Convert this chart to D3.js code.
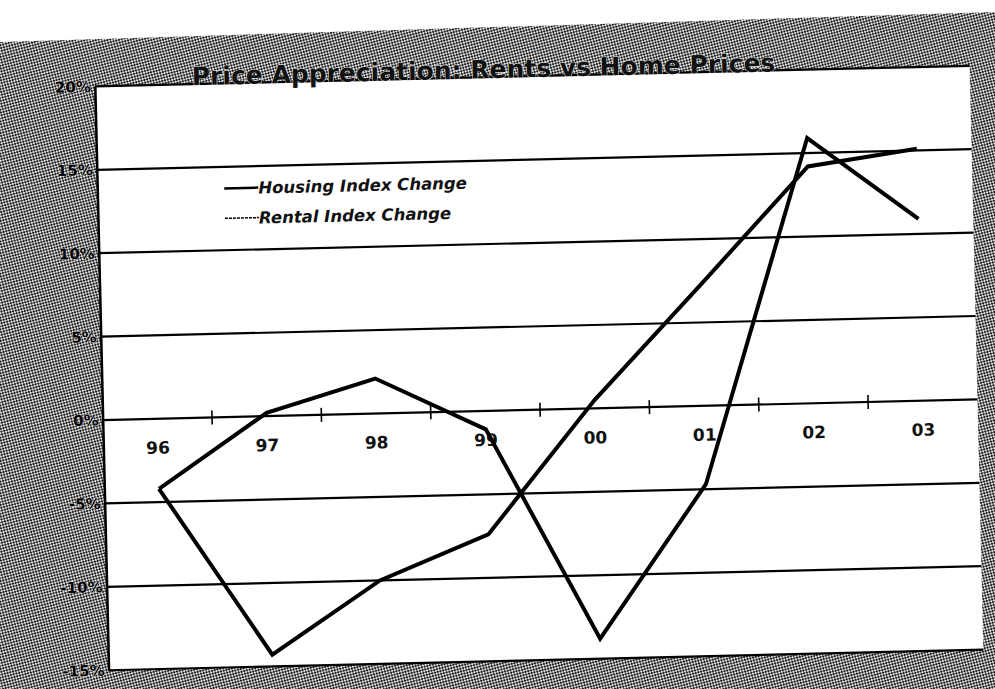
<!DOCTYPE html>
<html>
<head>
<meta charset="utf-8">
<style>
    body {
        margin: 0;
        overflow: hidden;
        background: #fff;
    }
    text {
        font-family: "DejaVu Sans", Verdana, sans-serif;
    }
</style>
<script src="https://cdn.jsdelivr.net/npm/d3@7"></script>
</head>
<body>
<div id="container"></div>
<script>
    // chart data
    const years = ["96", "97", "98", "99", "00", "01", "02", "03"];
    const housing = [-4.2, 0.2, 2.1, -1.1, -13.8, -4.7, 15.9, 10.9];
    const rental = [-4.2, -14.3, -10.0, -7.4, 0.5, 7.3, 14.2, 15.1];
    const seriesNames = ["Housing Index Change", "Rental Index Change"];
    const yTicks = [20, 15, 10, 5, 0, -5, -10, -15];
    const title = "Price Appreciation: Rents vs Home Prices";

    const width = 995, height = 689;
    // plot box (before the little scan tilt is applied)
    const plot = {left: 101, right: 976, top: 77, bottom: 661};

    const svg = d3.select("#container").append("svg")
        .attr("width", width)
        .attr("height", height);

    // dithered grey of the scanned frame
    const pat = svg.append("defs").append("pattern")
        .attr("id", "dither")
        .attr("width", 4).attr("height", 4)
        .attr("patternUnits", "userSpaceOnUse")
        .attr("patternTransform", "rotate(30)");
    pat.append("rect").attr("width", 4).attr("height", 4).attr("fill", "#dcdcdc");
    pat.append("rect").attr("x", 0).attr("y", 0).attr("width", 2).attr("height", 2).attr("fill", "#222");
    pat.append("rect").attr("x", 2).attr("y", 2).attr("width", 2).attr("height", 2).attr("fill", "#222");

    svg.append("rect").attr("width", width).attr("height", height).attr("fill", "#fff");

    // grey frame of the scan, its top edge runs a bit steeper than the chart
    svg.append("polygon")
        .attr("points", `0,42 ${width},12 ${width},${height} 0,${height}`)
        .attr("fill", "url(#dither)");

    // whole chart is slightly rotated, like the scan
    const g = svg.append("g").attr("transform", "rotate(-1.35, 497, 344)");

    g.append("rect")
        .attr("x", plot.left).attr("y", plot.top)
        .attr("width", plot.right - plot.left)
        .attr("height", plot.bottom - plot.top)
        .attr("fill", "#fff");

    const x = d3.scaleBand().domain(years).range([plot.left, plot.right]);
    const y = d3.scaleLinear().domain([-15, 20]).range([plot.bottom, plot.top]);

    // gridlines
    g.append("g").selectAll("line")
        .data(yTicks)
        .join("line")
        .attr("x1", plot.left).attr("x2", plot.right)
        .attr("y1", d => y(d)).attr("y2", d => y(d))
        .attr("stroke", "#000")
        .attr("stroke-width", 2.2);

    // y axis
    const yAxis = g.append("g")
        .attr("transform", `translate(${plot.left},0)`)
        .call(d3.axisLeft(y).tickValues(yTicks).tickSize(0).tickPadding(4).tickFormat(d => d + "%"));
    yAxis.select(".domain").attr("stroke", "#000").attr("stroke-width", 2.5);
    yAxis.selectAll("text")
        .attr("font-size", 15)
        .attr("font-weight", "bold")
        .attr("fill", "#000")
        .attr("stroke", "#fff")
        .attr("stroke-width", 0.6)
        .attr("paint-order", "stroke")
        .style("font-family", "'DejaVu Sans', Verdana, sans-serif");

    // category axis sitting on 0%, ticks between the categories
    const boundaries = years.slice(1).map(d => x(d));
    g.append("g").selectAll("line")
        .data(boundaries)
        .join("line")
        .attr("x1", d => d).attr("x2", d => d)
        .attr("y1", y(0) - 7).attr("y2", y(0) + 7)
        .attr("stroke", "#000")
        .attr("stroke-width", 1.6);

    g.append("g").selectAll("text")
        .data(years)
        .join("text")
        .attr("x", d => x(d) + x.bandwidth() / 2)
        .attr("y", y(0) + 35)
        .attr("text-anchor", "middle")
        .attr("font-size", 17)
        .attr("font-weight", "bold")
        .attr("fill", "#111")
        .text(d => d);

    // the two series
    const line = d3.line()
        .x((d, i) => x(years[i]) + x.bandwidth() / 2)
        .y(d => y(d));

    [housing, rental].forEach(s => {
        g.append("path")
            .datum(s)
            .attr("d", line)
            .attr("fill", "none")
            .attr("stroke", "#000")
            .attr("stroke-width", 4)
            .attr("stroke-linejoin", "miter");
    });

    // legend
    const legend = g.append("g").attr("transform", "translate(228,182)");
    seriesNames.forEach((name, i) => {
        const row = legend.append("g").attr("transform", `translate(0,${i * 30})`);
        row.append("line")
            .attr("x1", 0).attr("x2", 34)
            .attr("y1", 0).attr("y2", 0)
            .attr("stroke", "#000")
            .attr("stroke-width", i === 0 ? 2.5 : 1.5)
            .attr("stroke-dasharray", i === 0 ? null : "3,1");
        row.append("text")
            .attr("x", 34).attr("y", 6)
            .attr("font-size", 16.5)
            .attr("font-weight", "bold")
            .attr("font-style", "italic")
            .attr("fill", "#111")
            .text(name);
    });

    // title
    g.append("text")
        .attr("x", 490).attr("y", 78)
        .attr("text-anchor", "middle")
        .attr("font-size", 25)
        .attr("font-weight", "bold")
        .attr("fill", "#111")
        .attr("stroke", "#fff")
        .attr("stroke-width", 0.8)
        .attr("paint-order", "stroke")
        .text(title);
</script>
</body>
</html>
